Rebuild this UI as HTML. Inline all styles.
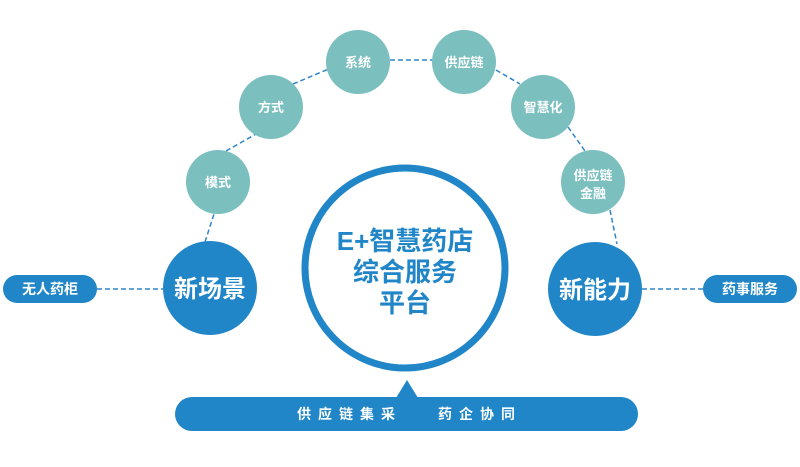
<!DOCTYPE html>
<html><head><meta charset="utf-8"><style>
html,body{margin:0;padding:0;background:#fff;}
svg text{font-family:"Liberation Sans","Noto Sans CJK SC",sans-serif;font-weight:bold;}
</style></head><body>
<svg width="800" height="462" viewBox="0 0 800 462" xmlns="http://www.w3.org/2000/svg">
<g stroke="#2f86cc" stroke-width="1.5" stroke-dasharray="5,3" fill="none">
<line x1="97" y1="289" x2="163" y2="289"/>
<line x1="642" y1="289" x2="703" y2="289"/>
<line x1="205" y1="242" x2="214" y2="214"/>
<line x1="226" y1="151" x2="256" y2="134"/>
<line x1="293" y1="84" x2="331" y2="68"/>
<line x1="390" y1="60" x2="432" y2="60"/>
<line x1="496" y1="70" x2="520" y2="84"/>
<line x1="568" y1="127" x2="585" y2="151"/>
<line x1="610" y1="210" x2="617" y2="244"/>
</g>
<circle cx="405" cy="268" r="100" fill="none" stroke="#2186c8" stroke-width="7"/>
<text x="405" y="250" font-size="26" fill="#2186c8" text-anchor="middle">E+智慧药店</text>
<text x="405" y="281" font-size="26" fill="#2186c8" text-anchor="middle">综合服务</text>
<text x="405" y="312" font-size="26" fill="#2186c8" text-anchor="middle">平台</text>
<g fill="#7bbfbf">
<circle cx="218" cy="182" r="32"/><circle cx="271" cy="107" r="32"/>
<circle cx="358" cy="62" r="32"/><circle cx="464" cy="62" r="32"/>
<circle cx="543" cy="107" r="32"/><circle cx="593" cy="182" r="32"/>
</g>
<g fill="#fff" font-size="13" text-anchor="middle">
<text x="218" y="187">模式</text><text x="271" y="112">方式</text>
<text x="358" y="67">系统</text><text x="464" y="67">供应链</text>
<text x="543" y="112">智慧化</text>
<text x="593" y="180">供应链</text><text x="593" y="198">金融</text>
</g>
<circle cx="210" cy="288" r="47" fill="#2186c8"/>
<circle cx="595" cy="289" r="47" fill="#2186c8"/>
<text x="210" y="297" font-size="24" fill="#fff" text-anchor="middle">新场景</text>
<text x="595" y="298" font-size="24" fill="#fff" text-anchor="middle">新能力</text>
<rect x="3" y="275" width="94" height="28" rx="14" fill="#2186c8"/>
<rect x="703" y="275" width="94" height="28" rx="14" fill="#2186c8"/>
<text x="50" y="294" font-size="14" fill="#fff" text-anchor="middle">无人药柜</text>
<text x="750" y="294" font-size="14" fill="#fff" text-anchor="middle">药事服务</text>
<rect x="175" y="397" width="463" height="34" rx="17" fill="#2186c8"/>
<polygon points="407,380 396,398 418,398" fill="#2186c8"/>
<text x="297" y="419" font-size="14" fill="#fff" letter-spacing="7">供应链集采</text>
<text x="438" y="419" font-size="14" fill="#fff" letter-spacing="7">药企协同</text>
</svg>
</body></html>
